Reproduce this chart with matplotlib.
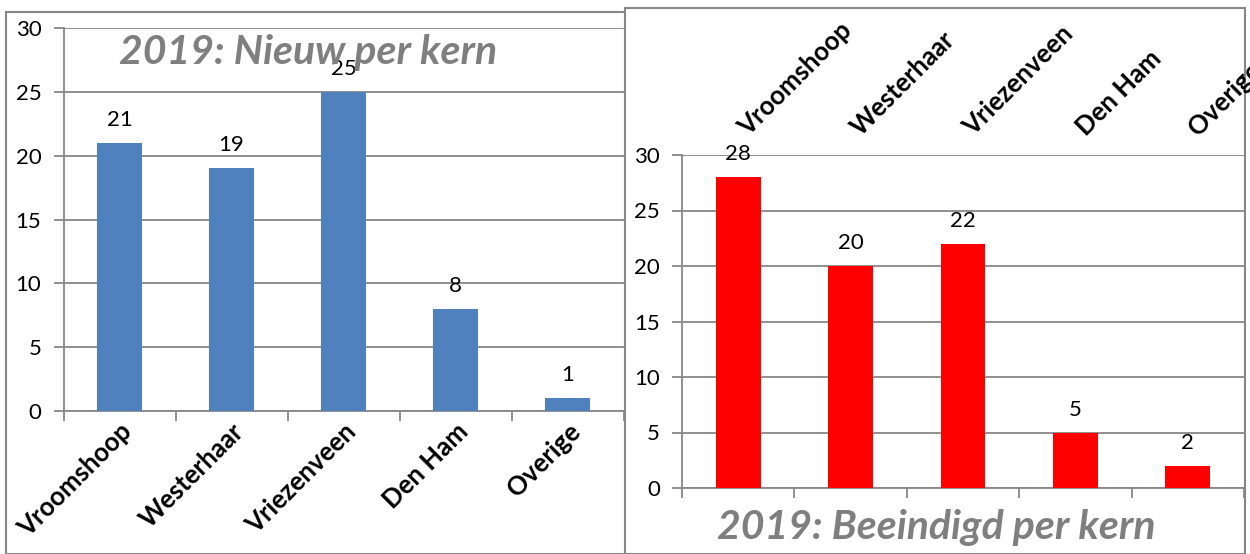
import matplotlib.pyplot as plt
import matplotlib.transforms as mtransforms
from matplotlib.patches import Rectangle

kernen = ["Vroomshoop", "Westerhaar", "Vriezenveen", "Den Ham", "Overige"]
nieuw = [21, 19, 25, 8, 1]
beeindigd = [28, 20, 22, 5, 2]
yticks = [0, 5, 10, 15, 20, 25, 30]

W, H = 1250, 554
plt.rcParams['font.family'] = ['Lato', 'DejaVu Sans']
grid_c = '#878787'
title_c = '#7f7f7f'


def px(x0, y0, x1, y1):
    # pixel box (top-left origin) -> figure fraction rect
    return [x0 / W, 1 - y1 / H, (x1 - x0) / W, (y1 - y0) / H]


def style(ax, vals, color):
    x = range(len(vals))
    ax.bar(x, vals, width=0.4, color=color, zorder=3)
    for i, v in enumerate(vals):
        ax.annotate(str(v), (i, v), xytext=(0, 13), textcoords='offset pixels',
                    ha='center', va='bottom', fontsize=16, color='black')
    ax.set_xlim(-0.5, len(vals) - 0.5)
    ax.set_ylim(0, 30)
    ax.set_yticks(yticks)
    ax.grid(axis='y', color=grid_c, linewidth=1.3, zorder=0)
    ax.set_xticks([i - 0.5 for i in range(len(vals) + 1)])
    ax.set_xticklabels([])
    ax.tick_params(axis='x', which='major', direction='out', length=7,
                   width=1.3, color=grid_c)
    ax.tick_params(axis='y', direction='out', length=7, width=1.3,
                   color=grid_c, labelsize=16, pad=9)
    for s in ['top', 'right']:
        ax.spines[s].set_visible(False)
    for s in ['left', 'bottom']:
        ax.spines[s].set_color(grid_c)
        ax.spines[s].set_linewidth(1.3)
    ax.patch.set_alpha(0)


fig = plt.figure(figsize=(W / 100, H / 100), dpi=100)

# left chart frame
fig.add_artist(Rectangle((6 / W, 0), 640 / W, 1 - 12 / H, transform=fig.transFigure,
                         facecolor='white', edgecolor=grid_c, linewidth=1.5, zorder=-2))

ax1 = fig.add_axes(px(63.5, 28, 623.5, 411), zorder=0)
style(ax1, nieuw, '#4f81bd')
ax1.set_xticks(list(range(5)), kernen, minor=True, rotation=45, ha='right',
               rotation_mode='anchor', fontsize=18.5, fontweight='bold')
ax1.tick_params(axis='x', which='minor', length=0, pad=6)
ax1.text(0.437, 0.937, "2019: Nieuw per kern", transform=ax1.transAxes,
         ha='center', va='center', fontsize=29.5, fontweight='bold',
         fontstyle='italic', color=title_c)

# right chart frame
fig.add_artist(Rectangle((625 / W, 0), 620 / W, 1 - 8 / H, transform=fig.transFigure,
                         facecolor='white', edgecolor=grid_c, linewidth=1.5, zorder=1))

ax2 = fig.add_axes(px(682, 155, 1244, 488), zorder=2)
style(ax2, beeindigd, '#ff0000')
# category names above the plot area
lab_tr = mtransforms.blended_transform_factory(ax2.transData, ax2.transAxes) + \
    mtransforms.ScaledTranslation(13 / 100, 15 / 100, fig.dpi_scale_trans)
for i, k in enumerate(kernen):
    ax2.text(i, 1.0, k, transform=lab_tr, rotation=45, ha='left', va='bottom',
             rotation_mode='anchor', fontsize=18.5, fontweight='bold',
             clip_on=False)
ax2.text(0.452, -0.12, "2019: Beeindigd per kern", transform=ax2.transAxes,
         ha='center', va='center', fontsize=29.5, fontweight='bold',
         fontstyle='italic', color=title_c)

fig.savefig('out.png', dpi=100)
